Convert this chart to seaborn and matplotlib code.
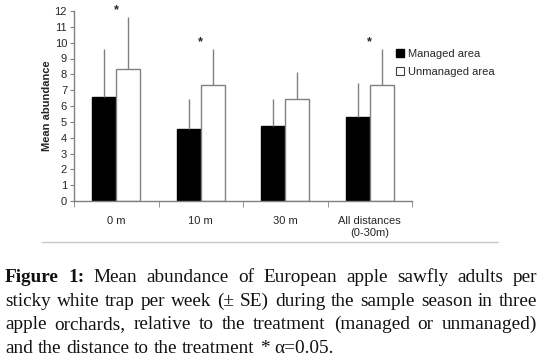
import numpy as np
import pandas as pd
import matplotlib.pyplot as plt
import seaborn as sns
from matplotlib.lines import Line2D

distances = ["0 m", "10 m", "30 m", "All distances\n(0-30m)"]
groups = ["Managed area", "Unmanaged area"]
managed = [6.55, 4.53, 4.74, 5.29]
unmanaged = [8.32, 7.31, 6.42, 7.35]
managed_se = [3.05, 1.89, 1.68, 2.14]
unmanaged_se = [3.28, 2.27, 1.73, 2.23]
significant = [True, True, False, True]
yticks = list(range(0, 13))

caption = [
    "Figure 1: Mean abundance of European apple sawfly adults per",
    "sticky white trap per week (± SE) during the sample season in three",
    "apple orchards, relative to the treatment (managed or unmanaged)",
    "and the distance to the treatment * α=0.05.",
]

df = pd.DataFrame({
    "distance": distances * 2,
    "area": [groups[0]] * 4 + [groups[1]] * 4,
    "abundance": managed + unmanaged,
})

sns.set_style("white")
plt.rcParams["font.family"] = ["Liberation Sans", "DejaVu Sans"]

W, H = 542, 359
fig = plt.figure(figsize=(W / 100, H / 100), dpi=100)
ax = fig.add_axes([74 / W, 1 - 201 / H, (412 - 74) / W, 190 / H])

sns.barplot(data=df, x="distance", y="abundance", hue="area",
            palette=["black", "white"], width=0.57, errorbar=None,
            edgecolor="#808080", linewidth=1, ax=ax)
ax.get_legend().remove()

grey = "#808080"
for cont, ses in zip(ax.containers, [managed_se, unmanaged_se]):
    for bar, se in zip(cont, ses):
        x = bar.get_x() + bar.get_width() / 2
        ax.errorbar(x, bar.get_height(), yerr=[[0], [se]], fmt="none",
                    ecolor=grey, elinewidth=1, capsize=0, zorder=1)
for bar in ax.containers[0]:
    bar.set_edgecolor("black")

tops = np.maximum(np.add(managed, managed_se), np.add(unmanaged, unmanaged_se))
for i, (sig, top) in enumerate(zip(significant, tops)):
    if sig:
        ax.text(i, top + 0.45, "*", ha="center", va="center", fontsize=9,
                fontweight="bold", clip_on=False)

ax.set_ylim(0, 12)
ax.set_xlim(-0.5, 3.5)
ax.set_yticks(yticks)
ax.set_xticks(range(4))
ax.set_xticklabels(distances)
ax.set_xticks(np.arange(-0.5, 4, 1), minor=True)
ax.set_xlabel("")
ax.set_ylabel("Mean abundance", fontsize=8, fontweight="bold", labelpad=2)
for s in ["top", "right"]:
    ax.spines[s].set_visible(False)
for s in ["left", "bottom"]:
    ax.spines[s].set_color(grey)
    ax.spines[s].set_linewidth(1)
ax.tick_params(axis="y", direction="out", length=3, color=grey, labelsize=8, pad=2, left=True)
ax.tick_params(axis="x", which="major", length=0, labelsize=8, pad=11)
ax.tick_params(axis="x", which="minor", direction="out", length=4, color=grey, bottom=True)

handles = [
    Line2D([], [], marker="s", ls="none", markersize=5.5, markerfacecolor="black", markeredgecolor="black"),
    Line2D([], [], marker="s", ls="none", markersize=5.5, markerfacecolor="white", markeredgecolor="#404040", markeredgewidth=0.8),
]
fig.legend(handles, groups, loc="upper left", bbox_to_anchor=(397 / W, 1 - 49 / H),
           frameon=False, fontsize=8, handlelength=0.6, handletextpad=0.35,
           labelspacing=0.7, borderaxespad=0, borderpad=0)

fig.add_artist(Line2D([42 / W, 498 / W], [1 - 242 / H, 1 - 242 / H],
                      color="#c8c8c8", lw=1))

# caption, justified like the journal layout
r = fig.canvas.get_renderer()
fs = 13.9
fam = "Liberation Serif"
left, right = 5, 537
baselines = [282, 305.5, 329, 353]


def width(s, bold=False):
    t = fig.text(0, 0, s, fontsize=fs, family=fam, weight="bold" if bold else "normal")
    w = t.get_window_extent(r).width
    t.remove()
    return w


space = width("a a") - width("aa")
for n, (line, yb) in enumerate(zip(caption, baselines)):
    words = line.split(" ")
    bold = [n == 0 and i < 2 for i in range(len(words))]
    ws = [width(w, b) for w, b in zip(words, bold)]
    last = n == len(caption) - 1
    gap = space if last else (right - left - sum(ws)) / (len(words) - 1)
    x = left
    for w, b, wd in zip(words, bold, ws):
        fig.text(x / W, 1 - yb / H, w, fontsize=fs, family=fam,
                 weight="bold" if b else "normal", va="baseline", color="#111111")
        x += wd + gap

fig.savefig("out.png", dpi=100)
